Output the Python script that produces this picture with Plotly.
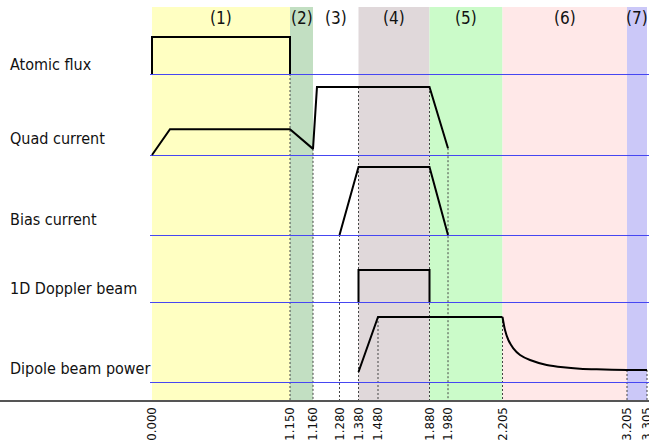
import numpy as np
import plotly.graph_objects as go

# ---- sequence data -------------------------------------------------------
# Event times (s) shown on the time axis
tick_times = [0.000, 1.150, 1.160, 1.280, 1.380, 1.480, 1.880, 1.980, 2.205, 3.205, 3.305]

# Experimental phases
phase_labels = ["(1)", "(2)", "(3)", "(4)", "(5)", "(6)", "(7)"]
phase_start = [0.000, 1.150, 1.160, 1.380, 1.880, 2.205, 3.205]
phase_end = [1.150, 1.160, 1.380, 1.880, 2.205, 3.205, 3.305]

# Channel waveforms (normalised amplitude)
atomic_t = [0.000, 0.000, 1.150, 1.150]
atomic_v = [0.0, 1.0, 1.0, 0.0]

quad_t = [0.000, 0.150, 1.150, 1.160, 1.178, 1.880, 1.980]
quad_v = [0.0, 0.38, 0.38, 0.09, 1.0, 1.0, 0.10]

bias_t = [1.280, 1.380, 1.880, 1.980]
bias_v = [0.0, 1.0, 1.0, 0.0]

doppler_t = [1.380, 1.380, 1.880, 1.880]
doppler_v = [0.0, 1.0, 1.0, 0.0]

dipole_t = [1.380, 1.480, 2.205]
dipole_v = [0.154, 1.0, 1.0]

# evaporation ramp of the dipole trap, then hold
decay_t = [2.205, 2.225, 2.252, 2.292, 2.346, 2.426, 2.560, 2.693, 2.827, 2.962, 3.205, 3.305]
decay_v = [1.0, 0.80, 0.646, 0.518, 0.415, 0.338, 0.262, 0.226, 0.205, 0.195, 0.185, 0.185]

# ---- layout ----------------------------------------------------------------
W, H = 649, 442
AXIS_Y = 400                       # y position of the time axis (px)
# non-linear time axis: screen position of each event time
AXIS_POS = [152, 290, 313, 339.5, 358.5, 378, 429.5, 448, 502.5, 627, 647]
SHADE_TOP = 7
LABEL_Y = 18

PHASE_COLORS = ["#ffffc2", "#c2dfc2", "#ffffff", "#e0d8da", "#cbfbc9", "#ffe8e8", "#cbc8f8"]

# channel rows: name -> (baseline px, full-scale height px, label centre px)
ROWS = {
    "Atomic flux": (74, 37, 64),
    "Quad current": (155, 68, 138),
    "Bias current": (235, 68, 219),
    "1D Doppler beam": (302, 32, 288),
    "Dipole beam power": (382, 65, 368),
}

FONT = "DejaVu Sans Condensed, DejaVu Sans, sans-serif"


def tx(t):
    return np.interp(np.asarray(t, dtype=float), tick_times, AXIS_POS)


def ty(row, v):
    base, amp, _ = ROWS[row]
    return base - amp * np.asarray(v, dtype=float)


channels = {
    "Atomic flux": (atomic_t, atomic_v),
    "Quad current": (quad_t, quad_v),
    "Bias current": (bias_t, bias_v),
    "1D Doppler beam": (doppler_t, doppler_v),
    "Dipole beam power": (dipole_t + decay_t, dipole_v + decay_v),
}

# channel whose trace each dashed time marker hangs from
guide_rows = [None, "Atomic flux", "Quad current", "Bias current", "Quad current",
              "Dipole beam power", "Quad current", "Quad current",
              "Dipole beam power", "Dipole beam power", "Dipole beam power"]


def level(row, t):
    ts, vs = channels[row]
    hits = [v for tt, v in zip(ts, vs) if abs(tt - t) < 1e-9]
    v = min(hits) if hits else float(np.interp(t, ts, vs))
    return float(ty(row, v))


fig = go.Figure()
shapes = []

# phase shading
for s, e, c in zip(phase_start, phase_end, PHASE_COLORS):
    shapes.append(dict(type="rect", xref="x", yref="y", x0=float(tx(s)), x1=float(tx(e)),
                       y0=SHADE_TOP, y1=AXIS_Y, fillcolor=c, line=dict(width=0), layer="below"))

# dashed event markers
for t, row in zip(tick_times, guide_rows):
    if row is None:
        continue
    x = float(tx(t))
    shapes.append(dict(type="line", xref="x", yref="y", x0=x, x1=x, y0=level(row, t), y1=AXIS_Y,
                       line=dict(color="#444444", width=1, dash="2px,2px"), layer="below"))

# channel baselines (offset half a pixel so they render crisp)
for row, (base, _, _) in ROWS.items():
    shapes.append(dict(type="line", xref="x", yref="y", x0=150, x1=W, y0=base + 0.5, y1=base + 0.5,
                       line=dict(color="#4646f2", width=1), layer="below"))

line_style = dict(color="black", width=2)
for row in ["Atomic flux", "Quad current", "Bias current", "1D Doppler beam"]:
    ts, vs = channels[row]
    fig.add_trace(go.Scatter(x=tx(ts), y=ty(row, vs), mode="lines", line=line_style,
                             hoverinfo="skip", showlegend=False))

fig.add_trace(go.Scatter(x=tx(dipole_t), y=ty("Dipole beam power", dipole_v), mode="lines",
                         line=line_style, hoverinfo="skip", showlegend=False))
fig.add_trace(go.Scatter(x=tx(decay_t), y=ty("Dipole beam power", decay_v), mode="lines",
                         line=dict(color="black", width=2, shape="spline", smoothing=0.8),
                         hoverinfo="skip", showlegend=False))

annotations = []
for lab, s, e in zip(phase_labels, phase_start, phase_end):
    annotations.append(dict(x=float((tx(s) + tx(e)) / 2), y=LABEL_Y, xref="x", yref="y",
                            text=lab, showarrow=False, xanchor="center", yanchor="middle",
                            font=dict(family=FONT, size=17, color="#111")))
for row, (_, _, ly) in ROWS.items():
    annotations.append(dict(x=8, y=ly, xref="x", yref="y", text=row, showarrow=False,
                            xanchor="left", yanchor="middle",
                            font=dict(family=FONT, size=16, color="#111")))
annotations.append(dict(x=8, y=414, xref="x", yref="y", text="Time (s)", showarrow=False,
                        xanchor="left", yanchor="middle",
                        font=dict(family=FONT, size=17, color="#111")))

fig.update_layout(
    width=W, height=H,
    margin=dict(l=0, r=0, t=0, b=H - AXIS_Y, pad=0),
    paper_bgcolor="white", plot_bgcolor="white",
    shapes=shapes, annotations=annotations,
    xaxis=dict(range=[0, W], showgrid=False, zeroline=False, showline=True,
               linecolor="#555555", linewidth=2, ticks="",
               tickvals=[float(v) for v in tx(tick_times)],
               ticktext=[f"{t:.3f}" for t in tick_times],
               tickangle=-90, tickfont=dict(family=FONT, size=13, color="#111"),
               ticklabeloverflow="allow",
               automargin=False, fixedrange=True),
    yaxis=dict(range=[AXIS_Y, 0], visible=False, fixedrange=True),
)

fig.write_html("out.html")
